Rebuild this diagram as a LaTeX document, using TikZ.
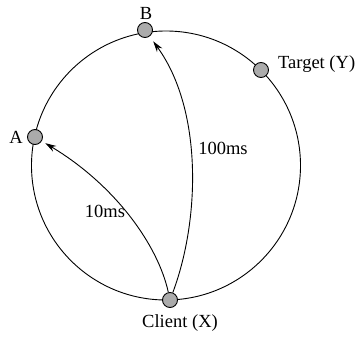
\documentclass[tikz,border=0pt]{standalone}
\usepackage{fontspec}
\setmainfont{Liberation Serif}
\usetikzlibrary{arrows.meta}
\begin{document}
\begin{tikzpicture}[x=1pt,y=-1pt,
  peer/.style={circle,draw=black,fill=black!33,line width=0.9pt,minimum size=15pt,inner sep=0pt},
  lbl/.style={font=\fontsize{18.5}{20}\selectfont,inner sep=0pt},
  ring/.style={line width=0.9pt},
  msg/.style={line width=0.9pt,-{Stealth[length=11pt,width=6.5pt]}}]
\useasboundingbox (0,0) rectangle (358,337);
\coordinate (c) at (166,165.5);
\draw[ring] (c) circle[radius=134.5pt];
\node[peer] (A) at (35,137) {};
\node[peer] (B) at (145,30) {};
\node[peer] (Y) at (261,70) {};
\node[peer] (X) at (170,300) {};
\node[lbl] (lA) at (16,137) {A};
\node[lbl] (lB) at (146,13) {B};
\node[lbl,anchor=west] (lY) at (278,64) {Target (Y)};
\node[lbl] (lX) at (180,323) {Client (X)};
\draw[msg,shorten >=6pt] (X) .. controls (200,220) and (203,110) .. (B);
\draw[msg,shorten >=4pt] (X) .. controls (158,245) and (115,185) .. (A);
\node[lbl] (t100) at (223,148) {100ms};
\node[lbl] (t10) at (105,211) {10ms};
\end{tikzpicture}
\end{document}
